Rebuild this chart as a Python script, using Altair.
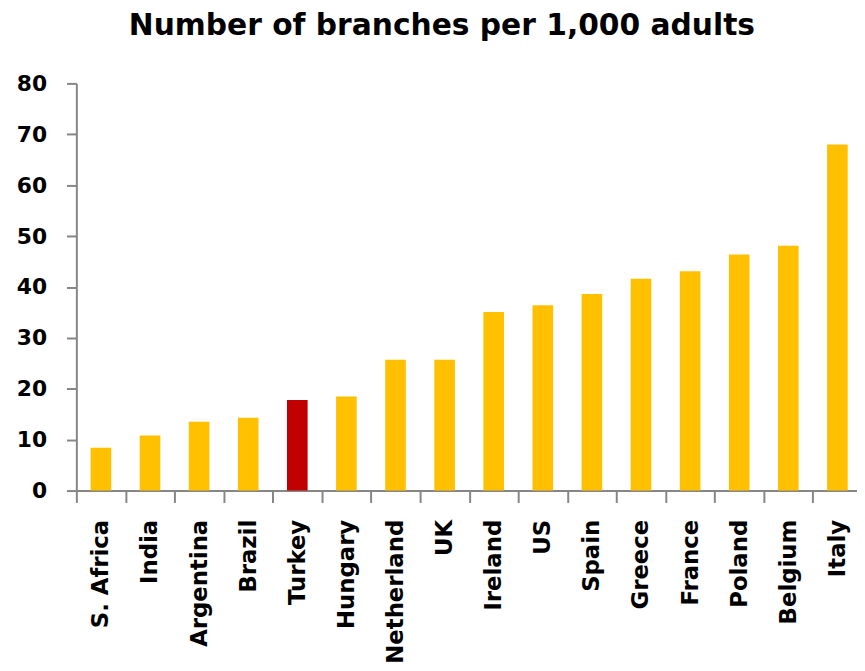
import altair as alt
import pandas as pd

countries = ["S. Africa", "India", "Argentina", "Brazil", "Turkey", "Hungary",
             "Netherland", "UK", "Ireland", "US", "Spain", "Greece", "France",
             "Poland", "Belgium", "Italy"]
branches = [8.4, 10.8, 13.5, 14.3, 17.8, 18.5, 25.7, 25.7, 35.1, 36.4, 38.6,
            41.6, 43.1, 46.4, 48.1, 68.0]
highlight = ["Turkey"]

df = pd.DataFrame({"country": countries, "value": branches})
df["group"] = ["hl" if c in highlight else "other" for c in countries]

AXIS_GREY = "#868686"

chart = alt.Chart(df).mark_bar(width={"band": 0.42}).encode(
    x=alt.X("country:N", sort=countries, title=None,
            scale=alt.Scale(paddingInner=0, paddingOuter=0, range=[0, 793]),
            axis=alt.Axis(labelAngle=-90, tickBand="extent", tickSize=12,
                          tickWidth=2, tickColor=AXIS_GREY, domainColor=AXIS_GREY,
                          domainWidth=2, labelFont="DejaVu Sans", labelFontSize=23,
                          labelFontWeight="bold", labelColor="#000000",
                          labelPadding=17, grid=False, labelAlign="right",
                          labelBaseline="middle")),
    y=alt.Y("value:Q", title=None,
            scale=alt.Scale(domain=[0, 80], nice=False),
            axis=alt.Axis(values=[0, 10, 20, 30, 40, 50, 60, 70, 80], tickSize=10,
                          tickWidth=2, tickColor=AXIS_GREY, domainColor=AXIS_GREY,
                          domainWidth=2, labelFont="DejaVu Sans", labelFontSize=22,
                          labelFontWeight="bold", labelColor="#000000",
                          labelPadding=20, grid=False)),
    color=alt.Color("group:N", legend=None,
                    scale=alt.Scale(domain=["other", "hl"], range=["#FFC000", "#C00000"])),
).properties(
    width=788,
    height=411,
    title=alt.TitleParams("Number of branches per 1,000 adults", font="DejaVu Sans",
                          fontSize=30, fontWeight="bold", color="#000000",
                          anchor="middle", dx=-25, offset=32),
    autosize=alt.AutoSizeParams(type="none"),
    padding={"left": 69, "top": 73, "right": 0, "bottom": 176},
).configure_view(stroke=None)

chart.save("out.html", embed_options={"renderer": "svg", "actions": False})
